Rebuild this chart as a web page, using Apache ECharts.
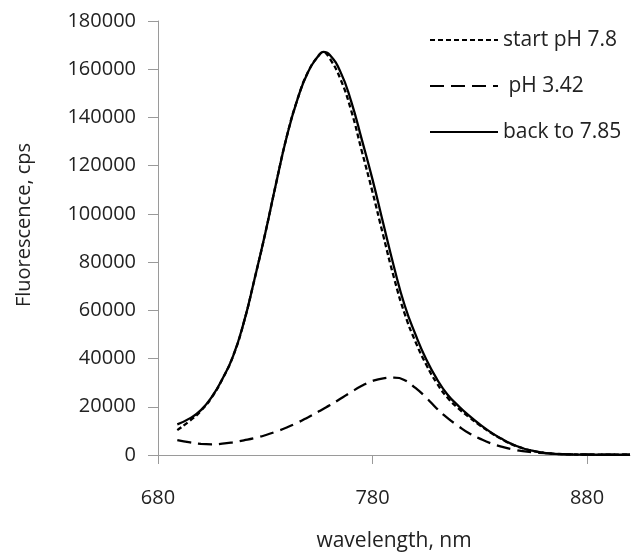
<!DOCTYPE html>
<html>
<head>
<meta charset="utf-8">
<script src="https://cdn.jsdelivr.net/npm/echarts@6/dist/echarts.min.js"></script>
<style>
html,body{margin:0;padding:0;background:#fff;}
#chart{width:634px;height:554px;}
</style>
</head>
<body>
<div id="chart"></div>
<script>
// wavelengths (nm)
const wavelengths = [689,695,700,705,710,715,720,725,730,735,740,745,750,755,757,760,765,770,775,780,785,790,795,800,805,810,815,820,825,830,835,840,845,850,855,860,865,870,880,890,900];
// start pH 7.8 (short dashes)
const startPH78 = [10300,14300,18300,23800,31500,41000,55000,73000,92000,112500,132000,147500,159000,165800,167000,164500,156000,143000,126000,109000,91000,73500,58500,47000,37500,29700,23700,19300,15700,12300,9300,6700,4400,2800,1700,900,500,300,150,100,100];
// pH 3.42 (long dashes)
const ph342 = [6200,5200,4600,4400,4700,5300,6100,7000,8200,9700,11400,13400,15700,18100,19100,20600,23300,26100,28700,30700,31800,32100,31000,27800,23800,19200,15300,12000,9000,6800,4900,3500,2400,1600,1100,800,550,350,200,100,100];
// back to 7.85 (solid)
const back785 = [12700,15300,18600,24000,31500,41000,55000,73000,92000,112500,132000,147500,159000,165800,167200,166000,159000,146800,130800,114200,96000,78000,62000,50000,39700,31500,25000,20400,16300,12700,9500,6800,4500,2800,1700,900,500,300,150,100,100];

const seriesNames = ['start pH 7.8', ' pH 3.42', 'back to 7.85'];
const xTickLabels = [680, 780, 880];
const yTickLabels = [0,20000,40000,60000,80000,100000,120000,140000,160000,180000];

const pairs = arr => wavelengths.map((w, i) => [w, arr[i]]);
const font = 'Open Sans';

const chart = echarts.init(document.getElementById('chart'), null, {renderer: 'canvas'});
chart.setOption({
  animation: false,
  backgroundColor: '#fff',
  grid: {left: 158, right: 4, top: 21, bottom: 99, containLabel: false, outerBoundsMode: 'none'},
  legend: {
    orient: 'vertical',
    left: 424,
    top: 24,
    itemWidth: 68,
    itemHeight: 14,
    itemGap: 24,
    itemStyle: {opacity: 0},
    textStyle: {fontFamily: font, fontSize: 21, color: '#222', lineHeight: 22},
    data: seriesNames
  },
  xAxis: {
    type: 'value',
    min: 680,
    max: 900,
    name: 'wavelength, nm',
    nameLocation: 'middle',
    nameGap: 76,
    nameTextStyle: {fontFamily: font, fontSize: 21, color: '#222'},
    axisLine: {show: true, lineStyle: {color: '#9a9a9a', width: 1}},
    axisTick: {show: true, length: 9, lineStyle: {color: '#9a9a9a'}, customValues: xTickLabels},
    axisLabel: {fontFamily: font, fontSize: 20, color: '#222', margin: 33, customValues: xTickLabels},
    splitLine: {show: false}
  },
  yAxis: {
    type: 'value',
    min: 0,
    max: 180000,
    interval: 20000,
    name: 'Fluorescence, cps',
    nameLocation: 'middle',
    nameRotate: 90,
    nameGap: 124,
    nameTextStyle: {fontFamily: font, fontSize: 20, color: '#222', padding: [0, 0, 0, 26]},
    axisLine: {show: true, lineStyle: {color: '#9a9a9a', width: 1}},
    axisTick: {show: true, length: 10, lineStyle: {color: '#9a9a9a'}},
    axisLabel: {fontFamily: font, fontSize: 20, color: '#222', margin: 22,
      customValues: yTickLabels, formatter: v => String(v)},
    splitLine: {show: false}
  },
  series: [
    {name: seriesNames[0], type: 'line', data: pairs(startPH78), smooth: 0.5, symbol: 'none',
     itemStyle: {color: '#000'},
     lineStyle: {color: '#000', width: 2.3, type: [5, 3]}, z: 3},
    {name: seriesNames[1], type: 'line', data: pairs(ph342), smooth: 0.5, symbol: 'none',
     itemStyle: {color: '#000'},
     lineStyle: {color: '#000', width: 2.3, type: [14, 7]}, z: 2},
    {name: seriesNames[2], type: 'line', data: pairs(back785), smooth: 0.5, symbol: 'none',
     itemStyle: {color: '#000'},
     lineStyle: {color: '#000', width: 2.3, type: 'solid'}, z: 4}
  ]
});
</script>
</body>
</html>
